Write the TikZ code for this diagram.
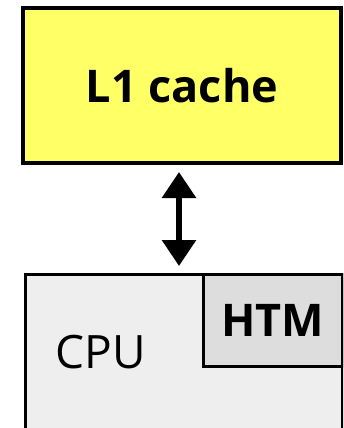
\documentclass[tikz,border=0pt]{standalone}
\usepackage{fontspec}
\setmainfont{Open Sans}
\usetikzlibrary{arrows.meta}
\definecolor{cacheyellow}{HTML}{FFFF66}
\definecolor{cpugray}{HTML}{EEEEEE}
\definecolor{htmgray}{HTML}{DDDDDD}
\begin{document}
\begin{tikzpicture}[x=1pt,y=1pt,
  block/.style={rectangle, draw=black, inner sep=0pt, outer sep=0pt},
  biarrow/.style={line width=6pt,
    {Triangle[width=33pt,length=26pt]}-{Triangle[width=33pt,length=26pt]}}]
  \useasboundingbox (0,0) rectangle (343,-428);
  \clip (0,0) rectangle (343,-428);

  % L1 cache
  \node[block, fill=cacheyellow, line width=4pt,
        minimum width=318pt, minimum height=154.5pt,
        font=\fontsize{45}{50}\selectfont\bfseries]
        (l1) at (182,-85.25) {L1 cache};

  % CPU with its HTM unit
  \node[block, fill=cpugray, line width=3pt,
        minimum width=317pt, minimum height=200pt, anchor=north west]
        (cpu) at (25,-274.5) {};
  \node[block, fill=htmgray, line width=3pt,
        minimum width=139pt, minimum height=92pt, anchor=north west,
        font=\fontsize{45}{50}\selectfont\bfseries]
        (htm) at (203,-274.5) {HTM};
  \node[anchor=base, font=\fontsize{46}{50}\selectfont]
        (cpulabel) at (101,-368) {CPU};

  % link between cache and CPU
  \coordinate (ax) at (179,0);
  \draw[biarrow, shorten <=9.5pt, shorten >=8.5pt]
        (ax |- l1.south) -- (ax |- cpu.north);
\end{tikzpicture}
\end{document}
